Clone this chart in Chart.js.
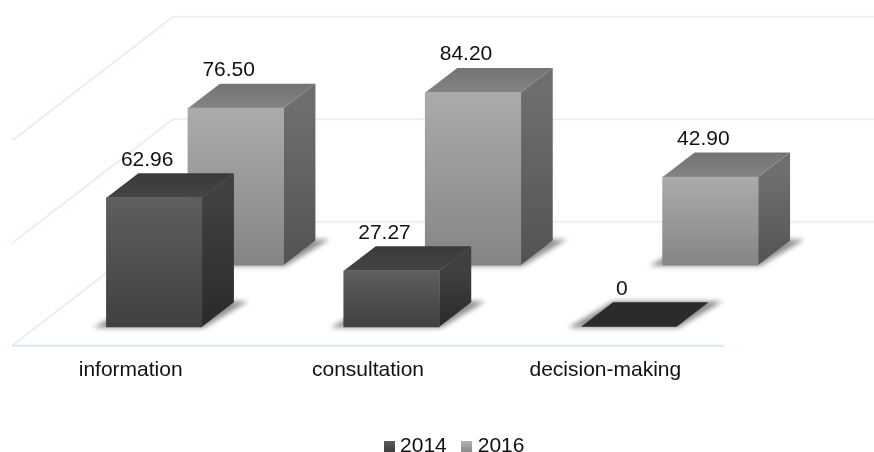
<!DOCTYPE html>
<html>
<head>
<meta charset="utf-8">
<script src="https://cdn.jsdelivr.net/npm/chart.js@4"></script>
<style>
  html, body { margin: 0; padding: 0; background: #fff; }
  #box { width: 874px; height: 452px; }
</style>
</head>
<body>
<div id="box"><canvas id="chart"></canvas></div>
<script>
const categories = ["information", "consultation", "decision-making"];
const seriesNames = ["2014", "2016"];
const values2014 = [62.96, 27.27, 0];
const values2016 = [76.5, 84.2, 42.9];

// Colours of the three faces, one set per series
const faces = [
    { front: ["#5e5e5e", "#404040"], side: ["#404040", "#2a2a2a"], top: ["#3a3a3a", "#444444"], flat: "#2b2b2b", swatch: ["#5e5e5e", "#404040"] },
    { front: ["#ababab", "#858585"], side: ["#6e6e6e", "#535353"], top: ["#737373", "#848484"], flat: "#848484", swatch: ["#b4b4b4", "#8a8a8a"] }
];
// Fake 3D: where each series sits on the floor, and how deep things go
const seriesShift = [{ x: 23.5, y: -19 }, { x: 105, y: -80.7 }];
const barDepth = { x: 32, y: -24.5 };
const wallDepth = { x: 161, y: -124 };
const legendShift = { x: 88.5, y: 29.2 };
const gridColor = "#e6eff8";

const font = { family: "'Liberation Sans', Arial, sans-serif", size: 21 };

function polygon(ctx, points, fill) {
    ctx.beginPath();
    points.forEach((p, i) => i ? ctx.lineTo(p[0], p[1]) : ctx.moveTo(p[0], p[1]));
    ctx.closePath();
    ctx.fillStyle = fill;
    ctx.fill();
}

function vGradient(ctx, y0, y1, colors) {
    const g = ctx.createLinearGradient(0, y0, 0, y1);
    g.addColorStop(0, colors[0]);
    g.addColorStop(1, colors[1]);
    return g;
}

function makeSwatch(colors) {
    const c = document.createElement("canvas");
    c.width = 11;
    c.height = 11;
    const cx = c.getContext("2d");
    cx.fillStyle = vGradient(cx, 0, 11, colors);
    cx.fillRect(0, 0, 11, 11);
    return c;
}
const swatches = faces.map(f => makeSwatch(f.swatch));

// Walls and floor, behind everything
const wallsPlugin = {
    id: "walls",
    beforeDatasetsDraw(chart) {
        const { ctx, chartArea: area, scales: { y } } = chart;
        ctx.save();
        ctx.strokeStyle = gridColor;
        ctx.lineWidth = 2;
        y.ticks.forEach(t => {
            const py = y.getPixelForValue(t.value);
            ctx.beginPath();
            ctx.moveTo(area.left, py);
            ctx.lineTo(area.left + wallDepth.x, py + wallDepth.y);
            ctx.lineTo(chart.width, py + wallDepth.y);
            ctx.stroke();
        });
        ctx.strokeStyle = "#d9e6f2";
        ctx.beginPath();
        ctx.moveTo(area.left, area.bottom);
        ctx.lineTo(area.right, area.bottom);
        ctx.stroke();
        ctx.restore();
    }
};

// Shadow, top and side of each bar go under the library's own front face
const boxPlugin = {
    id: "box3d",
    afterLayout(chart) {
        // legend sits under the whole picture, not under the floor
        chart.legend.left += legendShift.x;
        chart.legend.right += legendShift.x;
        chart.legend.top += legendShift.y;
        chart.legend.bottom += legendShift.y;
    },
    beforeDatasetDraw(chart, args) {
        const { ctx } = chart;
        const i = args.index;
        const f = faces[i];
        ctx.save();
        ctx.translate(seriesShift[i].x, seriesShift[i].y);
        args.meta.data.forEach(bar => {
            const x0 = bar.x - bar.width / 2;
            const x1 = bar.x + bar.width / 2;
            const dx = barDepth.x;
            const dy = barDepth.y;

            ctx.save();
            ctx.filter = "blur(2.5px)";
            polygon(ctx, [[x0 - 13, bar.base + 1], [x1 + 2, bar.base + 1], [x1 + dx + 14, bar.base + dy - 1], [x0 + dx, bar.base + dy - 1]], "rgba(70,70,70,0.6)");
            ctx.restore();

            if (bar.base - bar.y < 1) {
                polygon(ctx, [[x0, bar.y], [x1, bar.y], [x1 + dx, bar.y + dy], [x0 + dx, bar.y + dy]], f.flat);
                return;
            }
            polygon(ctx, [[x1, bar.y], [x1 + dx, bar.y + dy], [x1 + dx, bar.base + dy], [x1, bar.base]],
                vGradient(ctx, bar.y, bar.base, f.side));
            polygon(ctx, [[x0, bar.y], [x1, bar.y], [x1 + dx, bar.y + dy], [x0 + dx, bar.y + dy]],
                vGradient(ctx, bar.y + dy, bar.y, f.top));
        });
    },
    afterDatasetDraw(chart, args) {
        const { ctx } = chart;
        ctx.fillStyle = "#111";
        ctx.font = font.size + "px " + font.family;
        ctx.textAlign = "center";
        ctx.textBaseline = "alphabetic";
        args.meta.data.forEach((bar, n) => {
            const v = chart.data.datasets[args.index].data[n];
            ctx.fillText(v === 0 ? "0" : v.toFixed(2), bar.x - 7, bar.y - 32);
        });
        ctx.restore();
    }
};

function frontFill(i) {
    return c => {
        const y = c.chart.scales.y;
        const top = y ? y.getPixelForValue(c.raw) : NaN;
        const bottom = y ? y.getPixelForValue(0) : NaN;
        if (!Number.isFinite(top) || !Number.isFinite(bottom)) return faces[i].front[1];
        return vGradient(c.chart.ctx, top, bottom, faces[i].front);
    };
}

new Chart(document.getElementById("chart"), {
    type: "bar",
    data: {
        labels: categories,
        datasets: [
            { label: seriesNames[0], data: values2014, backgroundColor: frontFill(0), clip: false },
            { label: seriesNames[1], data: values2016, backgroundColor: frontFill(1), clip: false }
        ]
    },
    plugins: [wallsPlugin, boxPlugin],
    options: {
        animation: false,
        responsive: true,
        maintainAspectRatio: false,
        layout: { padding: { left: 12, right: 150, top: 140.7, bottom: 14.5 } },
        datasets: { bar: { grouped: false, barThickness: 95.5 } },
        scales: {
            x: {
                grid: { display: false },
                border: { display: false },
                ticks: { color: "#111", font: font, padding: 4, maxRotation: 0 }
            },
            y: {
                display: false,
                min: 0,
                max: 100,
                ticks: { stepSize: 50 }
            }
        },
        plugins: {
            tooltip: { enabled: false },
            legend: {
                position: "bottom",
                labels: {
                    color: "#111",
                    font: font,
                    usePointStyle: true,
                    pointStyleWidth: 1,
                    padding: 19.5,
                    generateLabels(chart) {
                        const items = Chart.defaults.plugins.legend.labels.generateLabels(chart);
                        items.forEach((item, i) => { item.pointStyle = swatches[i]; });
                        return items;
                    }
                }
            }
        }
    }
});
</script>
</body>
</html>
